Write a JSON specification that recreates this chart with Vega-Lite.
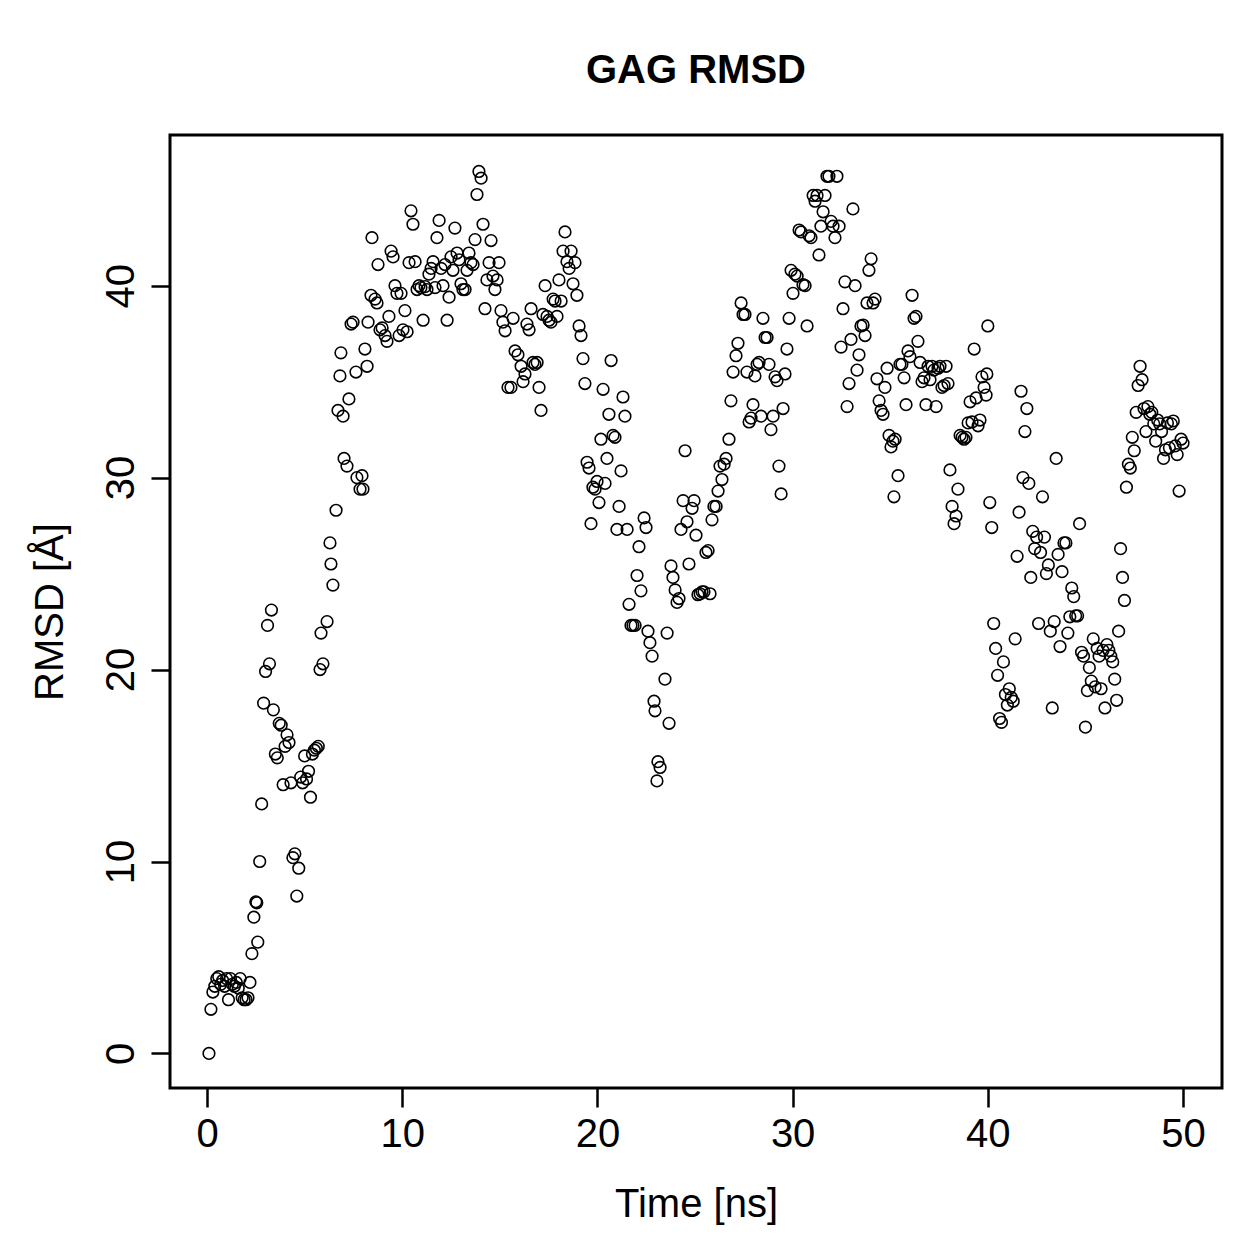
{
  "$schema": "https://vega.github.io/schema/vega-lite/v6.json",
  "autosize": {"type": "none"},
  "width": 1052,
  "height": 953,
  "padding": {"left": 170, "top": 135, "right": 37, "bottom": 171},
  "background": "white",
  "title": {
    "text": "GAG RMSD",
    "font": "Liberation Sans",
    "fontSize": 40,
    "fontWeight": "bold",
    "color": "black",
    "anchor": "middle",
    "baseline": "alphabetic",
    "offset": 12
  },
  "config": {
    "view": {"stroke": "black", "strokeWidth": 3, "fill": "white"},
    "axis": {
      "grid": false,
      "domain": false,
      "ticks": true,
      "tickColor": "black",
      "tickWidth": 2.5,
      "tickSize": 19,
      "labelFont": "Liberation Sans",
      "labelFontSize": 40,
      "labelColor": "black",
      "titleFont": "Liberation Sans",
      "titleFontSize": 40,
      "titleFontWeight": "normal",
      "titleColor": "black"
    }
  },
  "data": {
    "values": [
      {"t":0.1,"r":0},{"t":0.2,"r":2.3},{"t":0.3,"r":3.2},{"t":0.4,"r":3.5},{"t":0.5,"r":3.9},{"t":0.6,"r":4.0},{"t":0.7,"r":3.6},{"t":0.8,"r":3.8},{"t":0.9,"r":3.5},{"t":1.0,"r":3.9},
      {"t":1.1,"r":2.8},{"t":1.2,"r":3.9},{"t":1.3,"r":3.6},{"t":1.4,"r":3.5},{"t":1.5,"r":3.7},{"t":1.6,"r":3.4},{"t":1.7,"r":3.9},{"t":1.8,"r":2.9},{"t":1.9,"r":2.8},{"t":2.0,"r":2.8},
      {"t":2.1,"r":2.9},{"t":2.2,"r":3.7},{"t":2.3,"r":5.2},{"t":2.4,"r":7.1},{"t":2.5,"r":7.9},{"t":2.55,"r":7.85},{"t":2.6,"r":5.8},{"t":2.7,"r":10.0},{"t":2.8,"r":13.0},{"t":2.9,"r":18.25},
      {"t":3.0,"r":19.9},{"t":3.1,"r":22.3},{"t":3.2,"r":20.3},{"t":3.3,"r":23.1},{"t":3.4,"r":17.9},{"t":3.5,"r":15.6},{"t":3.6,"r":15.4},{"t":3.7,"r":17.2},{"t":3.8,"r":17.1},{"t":3.9,"r":14.0},
      {"t":4.0,"r":16.0},{"t":4.1,"r":16.6},{"t":4.2,"r":16.2},{"t":4.3,"r":14.1},{"t":4.4,"r":10.2},{"t":4.5,"r":10.4},{"t":4.6,"r":8.2},{"t":4.7,"r":9.65},{"t":4.8,"r":14.4},{"t":4.9,"r":14.1},
      {"t":5.0,"r":15.5},{"t":5.1,"r":14.3},{"t":5.2,"r":14.7},{"t":5.3,"r":13.35},{"t":5.4,"r":15.6},{"t":5.5,"r":15.8},{"t":5.6,"r":15.9},{"t":5.7,"r":16.0},{"t":5.79,"r":20.0},{"t":5.84,"r":21.9},
      {"t":5.94,"r":20.3},{"t":6.15,"r":22.5},{"t":6.3,"r":26.6},{"t":6.35,"r":25.5},{"t":6.45,"r":24.4},{"t":6.61,"r":28.3},{"t":6.71,"r":33.5},{"t":6.81,"r":35.3},{"t":6.86,"r":36.5},{"t":6.97,"r":33.2},
      {"t":7.02,"r":31.0},{"t":7.17,"r":30.6},{"t":7.27,"r":34.1},{"t":7.38,"r":38.0},{"t":7.48,"r":38.1},{"t":7.63,"r":35.5},{"t":7.68,"r":30.0},{"t":7.84,"r":29.4},{"t":7.94,"r":30.1},{"t":7.99,"r":29.4},
      {"t":8.09,"r":36.7},{"t":8.2,"r":35.8},{"t":8.25,"r":38.1},{"t":8.4,"r":39.5},{"t":8.45,"r":42.5},{"t":8.61,"r":39.3},{"t":8.71,"r":39.1},{"t":8.76,"r":41.1},{"t":8.86,"r":37.7},{"t":8.97,"r":37.8},
      {"t":9.12,"r":37.4},{"t":9.22,"r":37.1},{"t":9.32,"r":38.4},{"t":9.43,"r":41.8},{"t":9.53,"r":41.5},{"t":9.63,"r":40.0},{"t":9.73,"r":39.6},{"t":9.84,"r":37.4},{"t":9.94,"r":39.6},{"t":10.04,"r":37.7},
      {"t":10.14,"r":38.7},{"t":10.25,"r":37.6},{"t":10.35,"r":41.2},{"t":10.45,"r":43.9},{"t":10.55,"r":43.2},{"t":10.66,"r":41.25},{"t":10.76,"r":39.8},{"t":10.86,"r":40.0},{"t":10.96,"r":39.9},{"t":11.07,"r":38.2},
      {"t":11.17,"r":39.95},{"t":11.27,"r":39.8},{"t":11.37,"r":40.6},{"t":11.48,"r":40.9},{"t":11.58,"r":41.25},{"t":11.68,"r":39.9},{"t":11.78,"r":42.5},{"t":11.89,"r":43.4},{"t":11.99,"r":40.9},{"t":12.09,"r":40.0},
      {"t":12.19,"r":41.1},{"t":12.3,"r":38.2},{"t":12.4,"r":39.4},{"t":12.5,"r":41.5},{"t":12.6,"r":40.8},{"t":12.7,"r":43.0},{"t":12.81,"r":41.7},{"t":12.91,"r":41.35},{"t":13.01,"r":40.1},{"t":13.11,"r":39.8},
      {"t":13.22,"r":39.8},{"t":13.32,"r":40.8},{"t":13.42,"r":41.7},{"t":13.52,"r":41.2},{"t":13.63,"r":41.1},{"t":13.73,"r":42.4},{"t":13.83,"r":44.75},{"t":13.93,"r":45.95},{"t":14.04,"r":45.6},{"t":14.14,"r":43.2},
      {"t":14.24,"r":38.8},{"t":14.34,"r":40.3},{"t":14.45,"r":41.2},{"t":14.55,"r":42.35},{"t":14.65,"r":40.5},{"t":14.75,"r":39.8},{"t":14.86,"r":40.3},{"t":14.96,"r":41.2},{"t":15.06,"r":38.7},{"t":15.16,"r":38.1},
      {"t":15.27,"r":37.65},{"t":15.42,"r":34.7},{"t":15.57,"r":34.7},{"t":15.68,"r":38.3},{"t":15.78,"r":36.6},{"t":15.93,"r":36.4},{"t":16.09,"r":35.8},{"t":16.19,"r":35.0},{"t":16.29,"r":35.4},{"t":16.39,"r":38.0},
      {"t":16.5,"r":37.7},{"t":16.6,"r":38.8},{"t":16.7,"r":36.0},{"t":16.8,"r":35.9},{"t":16.91,"r":36.0},{"t":17.01,"r":34.7},{"t":17.11,"r":33.5},{"t":17.21,"r":38.5},{"t":17.32,"r":40.0},{"t":17.42,"r":38.4},
      {"t":17.52,"r":38.2},{"t":17.62,"r":38.1},{"t":17.73,"r":39.3},{"t":17.83,"r":39.2},{"t":17.93,"r":38.4},{"t":18.03,"r":40.3},{"t":18.14,"r":39.2},{"t":18.24,"r":41.8},{"t":18.34,"r":42.8},{"t":18.44,"r":41.25},
      {"t":18.55,"r":40.9},{"t":18.65,"r":41.8},{"t":18.75,"r":40.1},{"t":18.85,"r":41.2},{"t":18.95,"r":39.5},{"t":19.06,"r":37.9},{"t":19.16,"r":37.4},{"t":19.26,"r":36.2},{"t":19.36,"r":34.9},{"t":19.47,"r":30.8},
      {"t":19.57,"r":30.5},{"t":19.67,"r":27.6},{"t":19.77,"r":29.5},{"t":19.88,"r":29.4},{"t":19.98,"r":29.8},{"t":20.08,"r":28.7},{"t":20.18,"r":32.0},{"t":20.29,"r":34.6},{"t":20.39,"r":29.7},{"t":20.49,"r":31.0},
      {"t":20.59,"r":33.3},{"t":20.7,"r":36.1},{"t":20.8,"r":32.2},{"t":20.9,"r":32.1},{"t":21.0,"r":27.3},{"t":21.11,"r":28.5},{"t":21.21,"r":30.35},{"t":21.31,"r":34.2},{"t":21.41,"r":33.2},{"t":21.52,"r":27.3},
      {"t":21.62,"r":23.4},{"t":21.72,"r":22.3},{"t":21.82,"r":22.3},{"t":21.93,"r":22.3},{"t":22.03,"r":24.9},{"t":22.13,"r":26.4},{"t":22.23,"r":24.1},{"t":22.39,"r":27.9},{"t":22.49,"r":27.4},{"t":22.59,"r":22.0},
      {"t":22.69,"r":21.4},{"t":22.8,"r":20.7},{"t":22.9,"r":18.35},{"t":22.95,"r":17.85},{"t":23.05,"r":14.2},{"t":23.1,"r":15.2},{"t":23.21,"r":14.9},{"t":23.46,"r":19.5},{"t":23.57,"r":21.9},{"t":23.67,"r":17.2},
      {"t":23.77,"r":25.4},{"t":23.87,"r":24.8},{"t":23.98,"r":24.15},{"t":24.08,"r":23.5},{"t":24.18,"r":23.7},{"t":24.28,"r":27.3},{"t":24.39,"r":28.8},{"t":24.49,"r":31.4},{"t":24.59,"r":27.7},{"t":24.69,"r":25.5},
      {"t":24.85,"r":28.4},{"t":24.95,"r":28.8},{"t":25.05,"r":27.0},{"t":25.15,"r":23.9},{"t":25.26,"r":23.95},{"t":25.36,"r":24.05},{"t":25.46,"r":24.05},{"t":25.56,"r":26.1},{"t":25.67,"r":26.2},{"t":25.77,"r":23.95},
      {"t":25.87,"r":27.8},{"t":25.97,"r":28.5},{"t":26.08,"r":28.5},{"t":26.18,"r":29.3},{"t":26.28,"r":30.6},{"t":26.38,"r":29.9},{"t":26.49,"r":30.7},{"t":26.59,"r":31.0},{"t":26.74,"r":32.0},{"t":26.84,"r":34.0},
      {"t":26.95,"r":35.5},{"t":27.1,"r":36.35},{"t":27.2,"r":37.0},{"t":27.36,"r":39.1},{"t":27.46,"r":38.5},{"t":27.56,"r":38.5},{"t":27.66,"r":35.5},{"t":27.77,"r":32.9},{"t":27.87,"r":33.1},{"t":27.97,"r":33.8},
      {"t":28.07,"r":35.3},{"t":28.18,"r":35.9},{"t":28.28,"r":36.0},{"t":28.38,"r":33.2},{"t":28.48,"r":38.3},{"t":28.59,"r":37.3},{"t":28.69,"r":37.3},{"t":28.79,"r":35.9},{"t":28.89,"r":32.5},{"t":29.0,"r":33.2},
      {"t":29.1,"r":35.25},{"t":29.2,"r":35.05},{"t":29.3,"r":30.6},{"t":29.41,"r":29.15},{"t":29.51,"r":33.6},{"t":29.61,"r":35.4},{"t":29.71,"r":36.7},{"t":29.82,"r":38.3},{"t":29.92,"r":40.8},{"t":30.02,"r":39.6},
      {"t":30.12,"r":40.6},{"t":30.23,"r":40.5},{"t":30.33,"r":42.9},{"t":30.43,"r":42.8},{"t":30.53,"r":40.05},{"t":30.64,"r":40.0},{"t":30.74,"r":37.9},{"t":30.84,"r":42.6},{"t":30.94,"r":42.5},{"t":31.05,"r":44.7},
      {"t":31.15,"r":44.4},{"t":31.25,"r":44.7},{"t":31.35,"r":41.6},{"t":31.45,"r":43.1},{"t":31.56,"r":43.85},{"t":31.66,"r":44.7},{"t":31.76,"r":45.7},{"t":31.86,"r":45.7},{"t":31.97,"r":43.35},{"t":32.07,"r":43.1},
      {"t":32.17,"r":42.5},{"t":32.27,"r":45.7},{"t":32.38,"r":43.1},{"t":32.48,"r":36.8},{"t":32.58,"r":38.8},{"t":32.68,"r":40.2},{"t":32.79,"r":33.7},{"t":32.89,"r":34.9},{"t":32.99,"r":37.2},{"t":33.09,"r":44.0},
      {"t":33.2,"r":40.0},{"t":33.3,"r":35.6},{"t":33.4,"r":36.4},{"t":33.5,"r":37.9},{"t":33.61,"r":37.95},{"t":33.71,"r":37.4},{"t":33.81,"r":39.1},{"t":33.91,"r":40.8},{"t":34.02,"r":41.4},{"t":34.12,"r":39.1},
      {"t":34.22,"r":39.3},{"t":34.32,"r":35.15},{"t":34.43,"r":34.0},{"t":34.53,"r":33.5},{"t":34.63,"r":33.3},{"t":34.73,"r":34.7},{"t":34.84,"r":35.7},{"t":34.94,"r":32.2},{"t":35.04,"r":31.6},{"t":35.14,"r":31.9},
      {"t":35.19,"r":29.0},{"t":35.25,"r":32.0},{"t":35.4,"r":30.1},{"t":35.5,"r":35.9},{"t":35.6,"r":35.9},{"t":35.71,"r":35.2},{"t":35.81,"r":33.8},{"t":35.91,"r":36.6},{"t":36.01,"r":36.3},{"t":36.12,"r":39.5},
      {"t":36.22,"r":38.3},{"t":36.32,"r":38.4},{"t":36.42,"r":37.1},{"t":36.53,"r":36.0},{"t":36.63,"r":35.0},{"t":36.73,"r":35.2},{"t":36.83,"r":33.8},{"t":36.94,"r":35.8},{"t":37.04,"r":35.1},{"t":37.14,"r":35.8},
      {"t":37.24,"r":35.6},{"t":37.35,"r":33.7},{"t":37.45,"r":35.7},{"t":37.55,"r":35.8},{"t":37.65,"r":34.7},{"t":37.76,"r":34.8},{"t":37.86,"r":35.8},{"t":37.96,"r":34.9},{"t":38.06,"r":30.4},{"t":38.17,"r":28.5},
      {"t":38.27,"r":27.6},{"t":38.37,"r":28.0},{"t":38.47,"r":29.4},{"t":38.58,"r":32.2},{"t":38.68,"r":32.1},{"t":38.78,"r":32.0},{"t":38.88,"r":32.1},{"t":38.99,"r":32.85},{"t":39.09,"r":33.95},{"t":39.19,"r":32.9},
      {"t":39.3,"r":36.7},{"t":39.4,"r":34.15},{"t":39.5,"r":32.7},{"t":39.6,"r":33.0},{"t":39.7,"r":35.25},{"t":39.81,"r":34.7},{"t":39.91,"r":34.3},{"t":39.95,"r":35.4},{"t":40.0,"r":37.9},{"t":40.1,"r":28.7},
      {"t":40.2,"r":27.4},{"t":40.3,"r":22.4},{"t":40.4,"r":21.1},{"t":40.5,"r":19.7},{"t":40.6,"r":17.45},{"t":40.7,"r":17.25},{"t":40.8,"r":20.4},{"t":40.9,"r":18.7},{"t":41.0,"r":18.15},{"t":41.1,"r":19.0},
      {"t":41.2,"r":18.55},{"t":41.3,"r":18.35},{"t":41.4,"r":21.6},{"t":41.5,"r":25.9},{"t":41.6,"r":28.2},{"t":41.7,"r":34.5},{"t":41.8,"r":30.0},{"t":41.9,"r":32.4},{"t":42.0,"r":33.6},{"t":42.1,"r":29.7},
      {"t":42.2,"r":24.8},{"t":42.3,"r":27.2},{"t":42.4,"r":26.3},{"t":42.5,"r":26.9},{"t":42.6,"r":22.4},{"t":42.7,"r":26.1},{"t":42.8,"r":29.0},{"t":42.9,"r":26.9},{"t":43.0,"r":25.0},{"t":43.1,"r":25.45},
      {"t":43.2,"r":22.0},{"t":43.3,"r":18.0},{"t":43.4,"r":22.5},{"t":43.5,"r":31.0},{"t":43.6,"r":26.0},{"t":43.7,"r":21.2},{"t":43.8,"r":25.1},{"t":43.9,"r":26.6},{"t":44.0,"r":26.6},{"t":44.1,"r":21.9},
      {"t":44.2,"r":22.75},{"t":44.3,"r":24.25},{"t":44.4,"r":23.8},{"t":44.5,"r":22.8},{"t":44.6,"r":22.8},{"t":44.7,"r":27.6},{"t":44.8,"r":20.9},{"t":44.9,"r":20.7},{"t":45.0,"r":17.0},{"t":45.1,"r":18.9},
      {"t":45.2,"r":20.1},{"t":45.3,"r":19.4},{"t":45.4,"r":21.6},{"t":45.5,"r":19.1},{"t":45.6,"r":21.1},{"t":45.7,"r":20.7},{"t":45.8,"r":19.0},{"t":45.9,"r":21.0},{"t":46.0,"r":18.0},{"t":46.1,"r":21.3},
      {"t":46.2,"r":21.0},{"t":46.3,"r":20.7},{"t":46.4,"r":20.4},{"t":46.5,"r":19.5},{"t":46.6,"r":18.4},{"t":46.7,"r":22.0},{"t":46.8,"r":26.3},{"t":46.9,"r":24.8},{"t":47.0,"r":23.6},{"t":47.1,"r":29.5},
      {"t":47.2,"r":30.7},{"t":47.3,"r":30.5},{"t":47.4,"r":32.1},{"t":47.5,"r":31.4},{"t":47.6,"r":33.4},{"t":47.7,"r":34.8},{"t":47.8,"r":35.8},{"t":47.9,"r":35.1},{"t":48.0,"r":33.6},{"t":48.1,"r":32.4},
      {"t":48.2,"r":33.7},{"t":48.3,"r":33.3},{"t":48.4,"r":33.4},{"t":48.5,"r":32.8},{"t":48.6,"r":31.9},{"t":48.7,"r":33.0},{"t":48.8,"r":32.8},{"t":48.9,"r":32.4},{"t":49.0,"r":31.0},{"t":49.1,"r":31.45},
      {"t":49.2,"r":32.85},{"t":49.3,"r":31.55},{"t":49.4,"r":32.8},{"t":49.5,"r":32.95},{"t":49.6,"r":31.65},{"t":49.7,"r":31.2},{"t":49.8,"r":29.3},{"t":49.9,"r":32.0},{"t":50.0,"r":31.8}
    ]
  },
  "mark": {"type": "point", "shape": "circle", "filled": false, "color": "black", "strokeWidth": 1.6, "size": 135, "opacity": 1},
  "encoding": {
    "x": {
      "field": "t",
      "type": "quantitative",
      "scale": {"domain": [-1.896, 51.996], "nice": false, "zero": false},
      "axis": {
        "values": [0, 10, 20, 30, 40, 50],
        "title": "Time [ns]",
        "labelPadding": 7,
        "titleBaseline": "alphabetic",
        "titleY": 128
      }
    },
    "y": {
      "field": "r",
      "type": "quantitative",
      "scale": {"domain": [-1.8, 47.85], "nice": false, "zero": false},
      "axis": {
        "values": [0, 10, 20, 30, 40],
        "title": "RMSD [Å]",
        "labelAngle": -90,
        "labelAlign": "center",
        "labelBaseline": "bottom",
        "labelPadding": 10,
        "titleAngle": -90,
        "titleBaseline": "alphabetic",
        "titleX": -108
      }
    }
  }
}
